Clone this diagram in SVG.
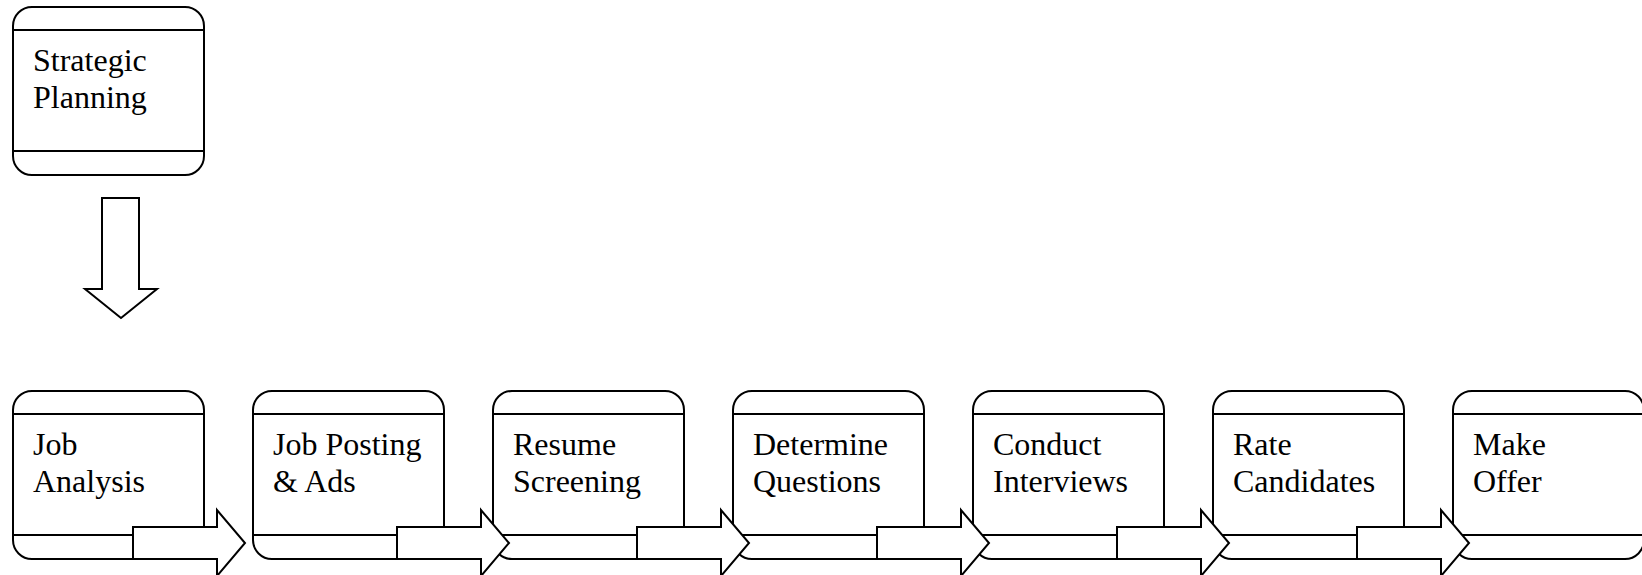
<svg xmlns="http://www.w3.org/2000/svg" width="1642" height="575" viewBox="0 0 1642 575">
<style>
.box{fill:#fff;stroke:#000;stroke-width:2}
.ln{stroke:#000;stroke-width:2}
.arr{fill:#fff;stroke:#000;stroke-width:2;stroke-linejoin:miter}
.t{font-family:"Liberation Serif","Times New Roman",serif;font-size:32px;fill:#000}
</style>
<defs>
<g id="boxshape">
<rect class="box" x="0" y="0" width="191" height="168" rx="19" ry="19"/>
<line class="ln" x1="0" y1="23" x2="191" y2="23"/>
<line class="ln" x1="0" y1="144" x2="191" y2="144"/>
</g>
<polygon id="rarrow" class="arr" points="0,-16 84,-16 84,-33 112,0 84,33 84,16 0,16"/>
</defs>
<g id="node-strategic-planning">
<use href="#boxshape" x="13" y="7"/>
<text class="t" x="33" y="71">Strategic</text>
<text class="t" x="33" y="108">Planning</text>
</g>
<g id="node-job-analysis">
<use href="#boxshape" x="13" y="391"/>
<text class="t" x="33" y="455">Job</text>
<text class="t" x="33" y="492">Analysis</text>
</g>
<g id="node-job-posting">
<use href="#boxshape" x="253" y="391"/>
<text class="t" x="273" y="455">Job Posting</text>
<text class="t" x="273" y="492">&amp; Ads</text>
</g>
<g id="node-resume-screening">
<use href="#boxshape" x="493" y="391"/>
<text class="t" x="513" y="455">Resume</text>
<text class="t" x="513" y="492">Screening</text>
</g>
<g id="node-determine-questions">
<use href="#boxshape" x="733" y="391"/>
<text class="t" x="753" y="455">Determine</text>
<text class="t" x="753" y="492">Questions</text>
</g>
<g id="node-conduct-interviews">
<use href="#boxshape" x="973" y="391"/>
<text class="t" x="993" y="455">Conduct</text>
<text class="t" x="993" y="492">Interviews</text>
</g>
<g id="node-rate-candidates">
<use href="#boxshape" x="1213" y="391"/>
<text class="t" x="1233" y="455">Rate</text>
<text class="t" x="1233" y="492">Candidates</text>
</g>
<g id="node-make-offer">
<use href="#boxshape" x="1453" y="391"/>
<text class="t" x="1473" y="455">Make</text>
<text class="t" x="1473" y="492">Offer</text>
</g>
<g id="connectors">
<polygon class="arr" points="102,198 139,198 139,289 157,289 121,318 85,289 102,289"/>
<use href="#rarrow" x="133" y="543"/>
<use href="#rarrow" x="397" y="543"/>
<use href="#rarrow" x="637" y="543"/>
<use href="#rarrow" x="877" y="543"/>
<use href="#rarrow" x="1117" y="543"/>
<use href="#rarrow" x="1357" y="543"/>
</g>
</svg>
